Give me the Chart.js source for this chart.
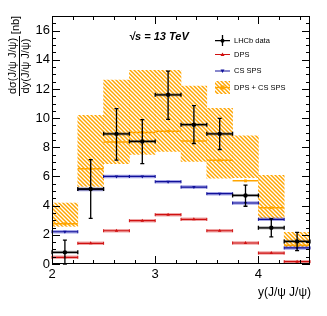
<!DOCTYPE html>
<html>
<head>
<meta charset="utf-8">
<script src="https://cdn.jsdelivr.net/npm/chart.js@4.4.1/dist/chart.umd.min.js"></script>
<style>
  html, body { margin: 0; padding: 0; background: #fff; }
</style>
</head>
<body>
<canvas id="myChart" width="327" height="316"></canvas>
<script>
// bins in y(J/psi J/psi)
const binEdges = [2, 2.25, 2.5, 2.75, 3, 3.25, 3.5, 3.75, 4, 4.25, 4.5];

// LHCb data with total errors
const lhcbData = [0.8, 5.14, 8.92, 8.4, 11.6, 9.55, 8.92, 4.7, 2.48, 1.55];
const lhcbHigh = [1.64, 7.15, 10.65, 9.9, 13.22, 10.85, 9.98, 5.41, 3.1, 2.17];
const lhcbLow = [0, 3.13, 7.12, 6.88, 9.92, 8.26, 7.85, 3.96, 1.86, 0.92];

// theory predictions
const dps = [0.46, 1.42, 2.28, 2.97, 3.38, 3.06, 2.28, 1.44, 0.75, 0.16];
const csSps = [2.21, 5.11, 6.0, 6.0, 5.64, 5.27, 4.82, 4.18, 3.06, 1.1];
const dpsCs = [2.76, 6.53, 8.36, 9.02, 9.1, 8.43, 7.12, 5.7, 3.86, 1.28];
const dpsCsLow = [2.58, 5.32, 6.87, 7.51, 7.72, 7.03, 5.89, 5.92, 3.15, 1.16];
const dpsCsHigh = [4.18, 10.19, 12.6, 13.27, 13.27, 12.2, 10.67, 8.79, 6.07, 2.17];

const xTickLabels = [2, 3, 4];
const yTickLabels = [0, 2, 4, 6, 8, 10, 12, 14, 16];

const colors = {
  dps: "#d01010",
  dpsShade: "rgba(220, 60, 60, 0.45)",
  cs: "#10109a",
  csShade: "rgba(60, 60, 200, 0.45)",
  orange: "#ffa500",
  black: "#000",
};
const FONT = '"Liberation Sans", Arial, sans-serif';

const centers = binEdges.slice(0, -1).map((e, i) => (e + binEdges[i + 1]) / 2);
const steps = (vals) =>
  vals.flatMap((v, i) => [
    { x: binEdges[i], y: v },
    { x: binEdges[i + 1], y: v },
    { x: binEdges[i + 1], y: null },
  ]);
const atCenters = (vals) => vals.map((v, i) => ({ x: centers[i], y: v }));

function hatch(color) {
  const c = document.createElement("canvas");
  c.width = 4;
  c.height = 4;
  const g = c.getContext("2d");
  g.strokeStyle = color;
  g.lineWidth = 1.45;
  g.beginPath();
  g.moveTo(-1, -1); g.lineTo(5, 5);
  g.moveTo(-1, 3); g.lineTo(1, 5);
  g.moveTo(3, -1); g.lineTo(5, 1);
  g.stroke();
  return g.createPattern(c, "repeat");
}
const hatchFill = hatch(colors.orange);

// error bars, caps, frame, ticks and texts
const extras = {
  id: "extras",
  beforeDatasetDraw(chart, args) {
    if (args.meta.label !== "LHCb data") return;
    const { ctx, scales: { x, y } } = chart;
    ctx.save();
    centers.forEach((c, i) => {
      const px = x.getPixelForValue(c);
      const x0 = x.getPixelForValue(binEdges[i]);
      const x1 = x.getPixelForValue(binEdges[i + 1]);
      const py = y.getPixelForValue(lhcbData[i]);
      const yh = y.getPixelForValue(lhcbHigh[i]);
      const yl = y.getPixelForValue(lhcbLow[i]);
      ctx.fillStyle = "rgba(0,0,0,0.35)";
      ctx.fillRect(x0, py - 1.5, x1 - x0, 3);
      ctx.strokeStyle = colors.black;
      ctx.lineWidth = 1.3;
      ctx.beginPath();
      ctx.moveTo(x0, py); ctx.lineTo(x1, py);
      ctx.moveTo(x0, py - 2); ctx.lineTo(x0, py + 2);
      ctx.moveTo(x1, py - 2); ctx.lineTo(x1, py + 2);
      ctx.moveTo(px, yh); ctx.lineTo(px, yl);
      ctx.moveTo(px - 2, yh); ctx.lineTo(px + 2, yh);
      ctx.moveTo(px - 2, yl); ctx.lineTo(px + 2, yl);
      ctx.stroke();
    });
    ctx.restore();
  },
  afterDatasetDraw(chart, args) {
    const caps = { DPS: [dps, colors.dps], "CS SPS": [csSps, colors.cs] }[args.meta.label];
    if (!caps) return;
    const { ctx, scales: { x, y } } = chart;
    ctx.save();
    ctx.strokeStyle = caps[1];
    ctx.lineWidth = 1;
    ctx.beginPath();
    caps[0].forEach((v, i) => {
      const py = y.getPixelForValue(v);
      [binEdges[i], binEdges[i + 1]].forEach((e) => {
        const px = x.getPixelForValue(e);
        ctx.moveTo(px, py - 1.5); ctx.lineTo(px, py + 1.5);
      });
    });
    ctx.stroke();
    ctx.restore();
  },
  afterDraw(chart) {
    const { ctx, chartArea: a, scales: { x, y } } = chart;
    ctx.save();
    ctx.strokeStyle = "#000";
    ctx.lineWidth = 1;
    ctx.strokeRect(a.left + 0.5, a.top + 0.5, a.right - a.left - 1, a.bottom - a.top - 1);
    ctx.beginPath();
    for (let v = 0; v <= 17.001; v += 0.5) {
      const py = Math.round(y.getPixelForValue(v)) + 0.5;
      const len = Math.abs(v % 2) < 0.01 ? 8 : 4;
      ctx.moveTo(a.left, py); ctx.lineTo(a.left + len, py);
      ctx.moveTo(a.right, py); ctx.lineTo(a.right - len, py);
    }
    for (let v = 2; v <= 4.501; v += 0.2) {
      const px = Math.round(x.getPixelForValue(v)) + 0.5;
      const len = Math.abs(v - Math.round(v)) < 0.01 ? 8 : 4;
      ctx.moveTo(px, a.bottom); ctx.lineTo(px, a.bottom - len);
      ctx.moveTo(px, a.top); ctx.lineTo(px, a.top + len);
    }
    ctx.stroke();

    // axis titles
    ctx.fillStyle = "#000";
    ctx.font = `12px ${FONT}`;
    ctx.textAlign = "right";
    ctx.textBaseline = "alphabetic";
    ctx.fillText("y(J/\u03c8 J/\u03c8)", a.right + 1, 296);

    ctx.font = `11px ${FONT}`;
    ctx.textAlign = "center";
    ctx.textBaseline = "middle";
    const rot = (txt, cx, cy) => {
      ctx.save();
      ctx.translate(cx, cy);
      ctx.rotate(-Math.PI / 2);
      ctx.fillText(txt, 0, 0);
      ctx.restore();
    };
    rot("d\u03c3(J/\u03c8 J/\u03c8)", 13, 66);
    rot("dy(J/\u03c8 J/\u03c8)", 26, 66);
    rot("[nb]", 16, 25);
    ctx.beginPath();
    ctx.moveTo(19.5, 36); ctx.lineTo(19.5, 96);
    ctx.stroke();

    // energy label
    ctx.font = `bold italic 11px ${FONT}`;
    ctx.textAlign = "left";
    ctx.fillText("\u221as = 13 TeV", 129, 37);

    // legend
    const lx0 = 215, lx1 = 230, lc = 222.5, tx = 234;
    ctx.font = `7.5px ${FONT}`;
    ctx.textBaseline = "middle";
    ctx.lineWidth = 1.3;
    ctx.strokeStyle = "#000";
    ctx.beginPath();
    ctx.moveTo(lx0, 40.7); ctx.lineTo(lx1, 40.7);
    ctx.moveTo(lc, 35); ctx.lineTo(lc, 46);
    ctx.stroke();
    ctx.beginPath(); ctx.arc(lc, 40.7, 2, 0, Math.PI * 2); ctx.fill();
    ctx.fillText("LHCb data", tx, 41);

    const legLine = (yy, col, up) => {
      ctx.strokeStyle = col;
      ctx.fillStyle = col;
      ctx.lineWidth = 1;
      ctx.beginPath(); ctx.moveTo(lx0, yy); ctx.lineTo(lx1, yy); ctx.stroke();
      ctx.beginPath();
      if (up) { ctx.moveTo(lc - 2, yy + 1.5); ctx.lineTo(lc + 2, yy + 1.5); ctx.lineTo(lc, yy - 2); }
      else { ctx.moveTo(lc - 2, yy - 1.5); ctx.lineTo(lc + 2, yy - 1.5); ctx.lineTo(lc, yy + 2); }
      ctx.fill();
    };
    legLine(54.5, colors.dps, true);
    legLine(71, colors.cs, false);
    ctx.fillStyle = hatchFill;
    ctx.fillRect(lx0, 81, lx1 - lx0, 13);
    ctx.strokeStyle = colors.orange;
    ctx.lineWidth = 1.3;
    ctx.beginPath(); ctx.moveTo(lx0, 87.5); ctx.lineTo(lx1, 87.5); ctx.stroke();
    ctx.fillStyle = colors.orange;
    ctx.fillRect(lc - 2, 85.5, 4, 4);
    ctx.fillStyle = "#000";
    ctx.fillText("DPS", tx, 54.5);
    ctx.fillText("CS SPS", tx, 71);
    ctx.fillText("DPS + CS SPS", tx, 87.5);
    ctx.restore();
  },
};

const ctx = document.getElementById("myChart");

new Chart(ctx, {
  type: "bar",
  data: {
    datasets: [
      {
        label: "LHCb data",
        type: "line",
        data: atCenters(lhcbData),
        showLine: false,
        pointRadius: 2.2,
        pointBackgroundColor: colors.black,
        pointBorderWidth: 0,
        order: 0,
      },
      {
        label: "DPS + CS SPS marker",
        type: "line",
        data: atCenters(dpsCs),
        showLine: false,
        pointStyle: "rect",
        pointRadius: 2,
        pointBackgroundColor: colors.orange,
        pointBorderWidth: 0,
        order: 1,
      },
      {
        label: "DPS + CS SPS",
        type: "line",
        data: steps(dpsCs),
        borderColor: colors.orange,
        borderWidth: 1.5,
        pointRadius: 0,
        spanGaps: false,
        order: 2,
      },
      {
        label: "CS SPS marker",
        type: "line",
        data: atCenters(csSps),
        showLine: false,
        pointStyle: "triangle",
        rotation: 180,
        pointRadius: 2,
        pointBackgroundColor: colors.cs,
        pointBorderWidth: 0,
        order: 3,
      },
      {
        label: "CS SPS",
        type: "line",
        data: steps(csSps),
        borderColor: colors.cs,
        borderWidth: 1.2,
        pointRadius: 0,
        spanGaps: false,
        order: 4,
      },
      {
        label: "CS SPS band",
        type: "line",
        data: steps(csSps),
        borderColor: colors.csShade,
        borderWidth: 3.5,
        pointRadius: 0,
        spanGaps: false,
        order: 5,
      },
      {
        label: "DPS marker",
        type: "line",
        data: atCenters(dps),
        showLine: false,
        pointStyle: "triangle",
        pointRadius: 2,
        pointBackgroundColor: colors.dps,
        pointBorderWidth: 0,
        order: 6,
      },
      {
        label: "DPS",
        type: "line",
        data: steps(dps),
        borderColor: colors.dps,
        borderWidth: 1.2,
        pointRadius: 0,
        spanGaps: false,
        order: 7,
      },
      {
        label: "DPS band",
        type: "line",
        data: steps(dps),
        borderColor: colors.dpsShade,
        borderWidth: 3.5,
        pointRadius: 0,
        spanGaps: false,
        order: 8,
      },
      {
        label: "DPS + CS SPS uncertainty",
        type: "bar",
        data: centers.map((c, i) => ({ x: c, y: [dpsCsLow[i], dpsCsHigh[i]] })),
        backgroundColor: hatchFill,
        borderWidth: 0,
        barPercentage: 1,
        categoryPercentage: 1,
        grouped: false,
        order: 10,
      },
    ],
  },
  options: {
    responsive: false,
    devicePixelRatio: 1,
    animation: false,
    layout: { padding: { top: 16, right: 17, left: 0, bottom: 0 } },
    plugins: {
      legend: { display: false },
      tooltip: { enabled: false },
    },
    scales: {
      x: {
        type: "linear",
        min: 2,
        max: 4.5,
        offset: false,
        afterFit: (s) => { s.height = 52; },
        grid: { display: false, drawTicks: false },
        border: { display: false },
        afterBuildTicks: (s) => { s.ticks = xTickLabels.map((v) => ({ value: v })); },
        ticks: {
          padding: 3,
          color: "#000",
          font: { family: FONT, size: 13 },
          maxRotation: 0,
        },
      },
      y: {
        min: 0,
        max: 17,
        afterFit: (s) => { s.width = 52; },
        grid: { display: false, drawTicks: false },
        border: { display: false },
        afterBuildTicks: (s) => { s.ticks = yTickLabels.map((v) => ({ value: v })); },
        ticks: {
          padding: 2,
          color: "#000",
          font: { family: FONT, size: 13 },
        },
      },
    },
  },
  plugins: [extras],
});
</script>
</body>
</html>
